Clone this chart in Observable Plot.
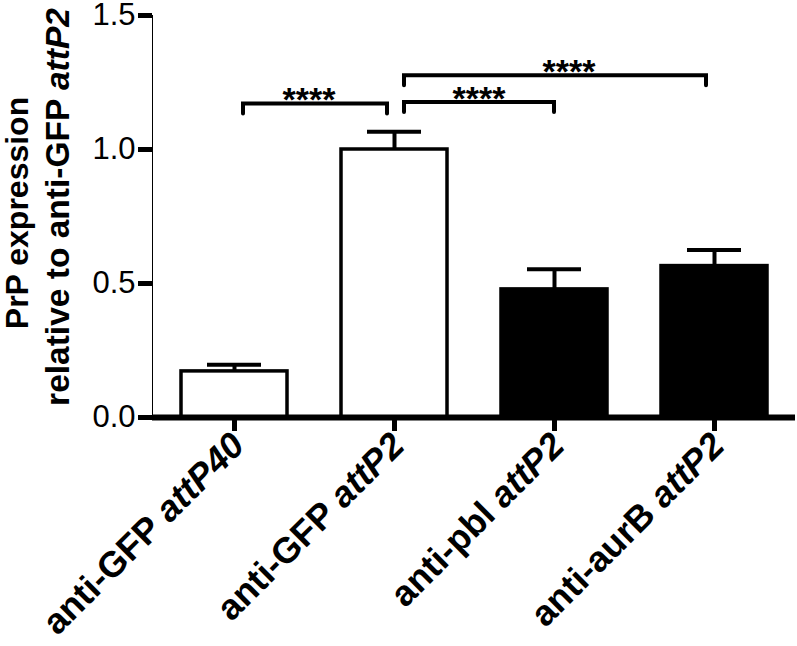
<!DOCTYPE html>
<html><head><meta charset="utf-8">
<script src="https://cdn.jsdelivr.net/npm/d3@7"></script>
<script src="https://cdn.jsdelivr.net/npm/@observablehq/plot@0.6"></script>
<style>
body{margin:0;background:#fff;}
#chart svg [aria-label^="y-axis"] line, #chart svg [aria-label^="y-axis"] path,
#chart svg [aria-label^="x-axis"] line, #chart svg [aria-label^="x-axis"] path { stroke-width: 5px; }
#chart svg [aria-label^="y-axis"] text { font-size: 31px; }
</style></head><body><div id="chart"></div>
<script>
// ---- data ----
const lineNames = ["anti-GFP", "anti-GFP", "anti-pbl", "anti-aurB"];
const sites = ["attP40", "attP2", "attP2", "attP2"];
const categories = lineNames.map((n, i) => n + " " + sites[i]);
const means = [0.172, 1.0, 0.478, 0.565];
const errors = [0.025, 0.066, 0.075, 0.060];
const groups = ["control", "control", "knockdown", "knockdown"];
const yTicks = [0, 0.5, 1.0, 1.5];
const bracketFrom = [0, 1, 1];
const bracketTo = [1, 2, 3];
const bracketY = [1.170, 1.175, 1.275];
const bracketLabels = ["****", "****", "****"];
const yLabelLine1 = "PrP expression";
const yLabelLine2 = "relative to anti-GFP ";
const yLabelItalic = "attP2";

// ---- style ----
const FONT = "'Liberation Sans', Arial, Helvetica, sans-serif";
const bracketNudge = [[9, -7], [10, 0], [10, -8]];
const starNudge = [-6, 0, 14];
const legPx = 10;

const rows = categories.map((c, i) => ({category: c, mean: means[i], top: means[i] + errors[i], group: groups[i]}));

function bracketMark(index, scales, values, dims) {
  const x = scales.x, y = scales.y;
  const bw = typeof x.bandwidth === "function" ? x.bandwidth() : 0;
  const cx = c => x(c) + bw / 2;
  const g = d3.create("svg:g").attr("aria-label", "significance");
  bracketFrom.forEach((f, i) => {
    const x1 = cx(categories[f]) + bracketNudge[i][0];
    const x2 = cx(categories[bracketTo[i]]) + bracketNudge[i][1];
    const yy = y(bracketY[i]);
    g.append("path")
      .attr("d", `M${x1},${yy + legPx}V${yy}H${x2}V${yy + legPx}`)
      .attr("fill", "none").attr("stroke", "black").attr("stroke-width", 4)
      .attr("stroke-linejoin", "miter").attr("stroke-linecap", "round");
    g.append("text")
      .attr("x", (x1 + x2) / 2 + starNudge[i]).attr("y", yy + 8)
      .attr("text-anchor", "middle")
      .style("font", `bold 34px ${FONT}`)
      .text(bracketLabels[i]);
  });
  return g.node();
}

const plot = Plot.plot({
  width: 797,
  height: 646,
  marginLeft: 152,
  marginRight: 2,
  marginTop: 15,
  marginBottom: 229,
  style: {fontFamily: FONT, fontSize: "31px", color: "black", background: "white"},
  x: {domain: categories, paddingInner: 0.34, paddingOuter: 0.17, tickSize: 14, tickFormat: () => "", label: null},
  y: {domain: [0, 1.5], ticks: yTicks, tickFormat: d3.format(".1f"), tickSize: 14, tickPadding: 3, line: true, label: null},
  color: {domain: ["control", "knockdown"], range: ["white", "black"]},
  marks: [
    Plot.ruleX(rows, {x: "category", y1: "mean", y2: "top", stroke: "black", strokeWidth: 4}),
    Plot.tickY(rows, {x: "category", y: "top", stroke: "black", strokeWidth: 4, insetLeft: 26, insetRight: 26}),
    Plot.barY(rows, {x: "category", y: "mean", fill: "group", stroke: "black", strokeWidth: 3.5}),
    Plot.ruleY([0], {stroke: "black", strokeWidth: 6}),
    Plot.text(categories, {x: d => d, frameAnchor: "bottom", rotate: -45, textAnchor: "end", lineAnchor: "bottom",
      dx: 12, dy: 30, fontSize: 36, fontWeight: "bold", fill: "black"}),
    bracketMark
  ]
});

document.getElementById("chart").appendChild(plot);
const svg = d3.select(plot.tagName.toLowerCase() === "svg" ? plot : plot.querySelector("svg"));

// italic site names in the category labels
svg.selectAll("text").each(function () {
  const i = categories.indexOf(this.textContent);
  if (i < 0 || this.childElementCount > 0) return;
  const t = d3.select(this).text(null).style("font-size", "36px").style("font-weight", "bold");
  t.append("tspan").text(lineNames[i] + " ");
  t.append("tspan").style("font-style", "italic").text(sites[i]);
});

// y axis title (two lines, rotated)
const yl = svg.append("g").attr("fill", "black").attr("text-anchor", "middle");
yl.append("text").attr("transform", "translate(28,213) rotate(-90)").style("font", `bold 32px ${FONT}`).text(yLabelLine1);
const t2 = yl.append("text").attr("transform", "translate(69,207) rotate(-90)").style("font", `bold 33.5px ${FONT}`);
t2.append("tspan").text(yLabelLine2);
t2.append("tspan").style("font-style", "italic").text(yLabelItalic);
</script>
</body></html>
